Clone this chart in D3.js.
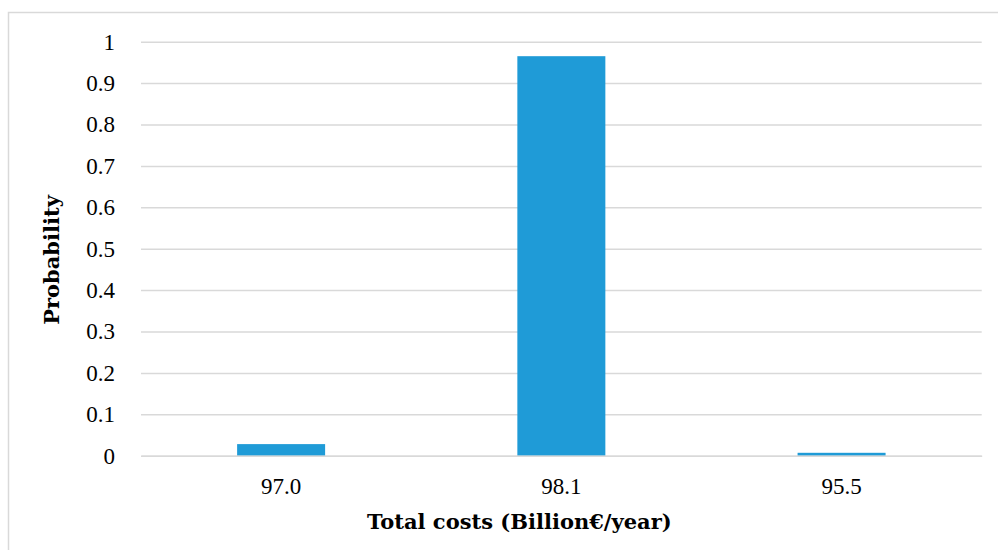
<!DOCTYPE html>
<html><head><meta charset="utf-8">
<script src="https://cdn.jsdelivr.net/npm/d3@7"></script>
<style>
html,body{margin:0;padding:0;background:#fff;}
svg{display:block;}
.tk text{font-family:"Liberation Serif","Times New Roman",Times,serif !important;font-size:23px;fill:#000;}
</style>
</head><body>
<svg id="chart" width="998" height="550"></svg>
<script>
const categories = ["97.0", "98.1", "95.5"];
const probability = [0.028, 0.965, 0.007];
const yTicks = [0, 0.1, 0.2, 0.3, 0.4, 0.5, 0.6, 0.7, 0.8, 0.9, 1];
const xTitle = "Total costs (Billion€/year)";
const yTitle = "Probability";

const W = 998, H = 550;
const svg = d3.select("#chart");
const m = {left: 141, right: 16.3, top: 41.7, bottom: 94.3};
const pw = W - m.left - m.right, ph = H - m.top - m.bottom;

// outer frame (top and left edges visible)
svg.append("rect").attr("x", 8.5).attr("y", 12.5).attr("width", 1000).attr("height", 600)
  .attr("fill", "none").attr("stroke", "#d9d9d9").attr("stroke-width", 1.5);

const g = svg.append("g").attr("transform", `translate(${m.left},${m.top})`);
const x = d3.scaleBand().domain(categories).range([0, pw]).padding(0);
const y = d3.scaleLinear().domain([0, 1]).range([ph, 0]);

// gridlines
const yAxis = d3.axisLeft(y).tickValues(yTicks).tickSize(-pw).tickPadding(26)
  .tickFormat(d => d3.format("")(+d.toFixed(1)));
const ya = g.append("g").attr("class", "tk").call(yAxis).attr("font-family", null).attr("font-size", null);
ya.select(".domain").remove();
ya.selectAll(".tick line").attr("stroke", "#d9d9d9").attr("stroke-width", 1.5);

// bars
const barW = x.bandwidth() * 0.314;
g.selectAll("rect.bar").data(categories).enter().append("rect").attr("class", "bar")
  .attr("x", d => x(d) + x.bandwidth() / 2 - barW / 2)
  .attr("width", barW)
  .attr("y", (d, i) => y(probability[i]))
  .attr("height", (d, i) => ph - y(probability[i]))
  .attr("fill", "#1f9bd7");

// x axis
const xa = g.append("g").attr("class", "tk").attr("transform", `translate(0,${ph})`)
  .call(d3.axisBottom(x).tickSize(0).tickPadding(22)).attr("font-family", null).attr("font-size", null);
xa.select(".domain").attr("stroke", "#d9d9d9").attr("stroke-width", 1.5);

// titles
svg.append("text").attr("x", m.left + pw / 2 - 42).attr("y", 529)
  .attr("text-anchor", "middle").style("font-family", "'DejaVu Serif', serif")
  .attr("font-weight", "bold").attr("font-size", 21).attr("fill", "#000").text(xTitle);
svg.append("text").attr("transform", "translate(59,260) rotate(-90)")
  .attr("text-anchor", "middle").style("font-family", "'DejaVu Serif', serif")
  .attr("font-weight", "bold").attr("font-size", 21).attr("fill", "#000").text(yTitle);
</script>
</body></html>
